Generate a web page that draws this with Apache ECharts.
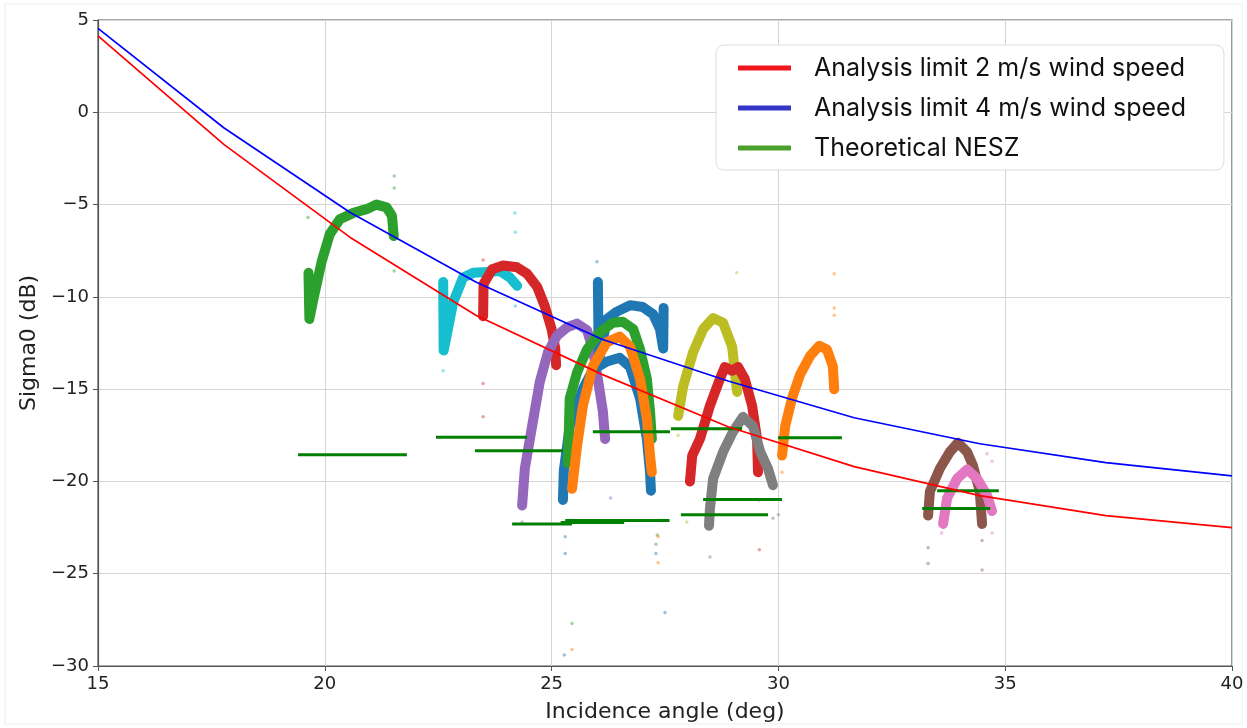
<!DOCTYPE html>
<html>
<head>
<meta charset="utf-8">
<script src="https://cdn.jsdelivr.net/npm/echarts@6/dist/echarts.min.js"></script>
<style>html,body{margin:0;padding:0;background:#fff}#c{width:1247px;height:728px}</style>
</head>
<body>
<div id="c"></div>
<script>
// ---- axis ticks ----
const xTicks = [15, 20, 25, 30, 35, 40];
const yTicks = [-30, -25, -20, -15, -10, -5, 0, 5];

// ---- analysis limit curves (incidence angle, sigma0 dB) ----
const limitAngles = [15, 17.78, 20.56, 23.33, 26.11, 28.89, 31.67, 34.44, 37.22, 40];
const limit2ms = [4.14, -1.75, -6.78, -11.0, -14.2, -17.04, -19.2, -20.77, -21.85, -22.5];
const limit4ms = [4.55, -0.85, -5.43, -9.2, -12.3, -14.56, -16.55, -17.96, -18.98, -19.7];

// ---- theoretical NESZ segments: [xStart, xEnd, level] ----
const neszStart = [19.41, 22.45, 23.31, 24.13, 25.2, 25.3, 25.91, 27.63, 28.34, 27.85, 29.99, 33.5, 33.17];
const neszEnd   = [21.81, 24.46, 25.25, 25.45, 26.6, 27.6, 27.61, 29.2, 30.08, 29.77, 31.4, 34.86, 34.67];
const neszLevel = [-18.55, -17.6, -18.34, -22.3, -22.22, -22.12, -17.31, -17.15, -20.98, -21.8, -17.64, -20.5, -21.47];

// ---- measured sigma0 bursts (x = angle, y = dB) ----
const arcGreenA = [[19.64,-8.7],[19.66,-11.2],[19.75,-10.1],[19.93,-8.1],[20.11,-6.6],[20.33,-5.8],[20.63,-5.45],[20.92,-5.25],[21.14,-5.0],[21.36,-5.15],[21.48,-5.6],[21.52,-6.7]];
const arcCyan = [[22.61,-9.2],[22.62,-12.9],[22.67,-12.3],[22.83,-10.3],[23.05,-8.95],[23.27,-8.7],[23.58,-8.65],[23.86,-8.6],[24.08,-8.95],[24.24,-9.4]];
const arcRedA = [[23.49,-11.05],[23.5,-9.3],[23.69,-8.5],[23.93,-8.3],[24.24,-8.4],[24.46,-8.75],[24.68,-9.45],[24.85,-10.5],[25.0,-11.75],[25.08,-12.8],[25.1,-13.7]];
const arcPurple = [[24.35,-21.3],[24.41,-19.3],[24.57,-17.0],[24.74,-14.6],[24.92,-13.0],[25.12,-12.1],[25.34,-11.65],[25.56,-11.45],[25.78,-11.8],[25.91,-12.85],[26.02,-14.45],[26.13,-16.2],[26.18,-17.7]];
const arcBlueUpper = [[26.02,-9.2],[26.04,-13.5],[26.22,-11.2],[26.44,-10.8],[26.73,-10.45],[27.01,-10.55],[27.24,-10.95],[27.39,-11.75],[27.46,-12.8],[27.47,-10.6]];
const arcBlueLower = [[25.25,-21.0],[25.27,-19.4],[25.4,-17.0],[25.69,-15.0],[25.91,-13.95],[26.22,-13.5],[26.5,-13.3],[26.73,-13.8],[26.95,-15.5],[27.1,-17.7],[27.17,-19.5],[27.19,-20.5]];
const arcGreenB = [[25.36,-19.0],[25.4,-15.5],[25.56,-14.1],[25.78,-12.85],[26.07,-11.9],[26.35,-11.4],[26.57,-11.35],[26.8,-11.75],[26.95,-12.85],[27.1,-14.45],[27.17,-16.2],[27.21,-17.7]];
const arcOrangeA = [[25.45,-20.4],[25.56,-18.1],[25.69,-15.9],[25.91,-13.75],[26.22,-12.45],[26.5,-12.15],[26.73,-12.7],[26.95,-14.45],[27.1,-16.6],[27.17,-18.6],[27.21,-19.5]];
const arcOlive = [[27.79,-16.45],[27.9,-14.85],[28.12,-13.0],[28.34,-11.75],[28.56,-11.15],[28.78,-11.4],[28.98,-12.7],[29.04,-14.05],[29.09,-15.15]];
const arcRedB = [[28.05,-20.0],[28.1,-18.6],[28.27,-17.7],[28.49,-15.9],[28.71,-14.45],[28.82,-13.8],[28.98,-14.0],[29.11,-13.8],[29.26,-14.45],[29.42,-15.9],[29.53,-17.7],[29.55,-19.5]];
const arcGray = [[28.47,-22.4],[28.49,-21.5],[28.56,-19.85],[28.78,-18.4],[29.0,-17.3],[29.22,-16.5],[29.44,-17.0],[29.6,-18.4],[29.77,-19.3],[29.88,-20.2]];
const arcOrangeB = [[30.08,-18.6],[30.15,-17.0],[30.3,-15.5],[30.48,-14.2],[30.7,-13.2],[30.9,-12.65],[31.07,-12.85],[31.2,-13.75],[31.23,-15.0]];
const arcBrown = [[33.3,-21.85],[33.34,-20.55],[33.56,-19.3],[33.78,-18.4],[33.96,-17.9],[34.16,-18.4],[34.29,-19.15],[34.44,-20.55],[34.49,-22.3]];
const arcPink = [[33.63,-22.3],[33.72,-20.9],[33.94,-19.85],[34.16,-19.35],[34.38,-19.85],[34.6,-20.75],[34.71,-21.6]];

// ---- sparse outlying samples ----
const outGreen = [[19.63,-5.7],[21.53,-3.45],[21.53,-4.1],[21.53,-8.6],[25.45,-27.7],[27.33,-22.9],[27.3,-23.4]];
const outCyan = [[24.19,-5.45],[24.2,-6.5],[22.61,-14.0],[24.2,-10.5]];
const outRed = [[23.49,-8.0],[23.49,-14.7],[23.49,-16.5],[29.58,-23.7],[29.57,-21.0]];
const outBlue = [[25.28,-29.4],[25.3,-23.0],[25.3,-23.9],[27.5,-27.1],[27.3,-23.9],[26.0,-8.1],[26.0,-12.7]];
const outOrange = [[25.45,-29.1],[27.35,-24.4],[27.35,-23.0],[31.23,-8.75],[31.23,-10.6],[31.23,-11.0],[30.08,-19.5]];
const outGray = [[28.49,-24.1],[29.88,-22.0],[30.0,-21.8]];
const outBrown = [[33.3,-23.6],[33.3,-24.45],[34.49,-24.8],[34.49,-23.2]];
const outPink = [[34.71,-22.8],[34.6,-18.5],[34.71,-18.9],[33.6,-22.8]];
const outPurple = [[24.35,-22.2],[26.3,-20.9]];
const outOlive = [[27.79,-17.5],[29.08,-8.7],[27.98,-22.2]];

const arcs = [
  {d: arcGreenA, c: '#2ca02c'}, {d: arcCyan, c: '#17becf'}, {d: arcRedA, c: '#d62728'},
  {d: arcPurple, c: '#9467bd'}, {d: arcBlueUpper, c: '#1f77b4'}, {d: arcBlueLower, c: '#1f77b4'},
  {d: arcGreenB, c: '#2ca02c'}, {d: arcOrangeA, c: '#ff7f0e'}, {d: arcOlive, c: '#bcbd22'},
  {d: arcRedB, c: '#d62728'}, {d: arcGray, c: '#7f7f7f'}, {d: arcOrangeB, c: '#ff7f0e'},
  {d: arcBrown, c: '#8c564b'}, {d: arcPink, c: '#e377c2'}
];
const outs = [
  {d: outGreen, c: '#2ca02c'}, {d: outCyan, c: '#17becf'}, {d: outRed, c: '#d62728'},
  {d: outBlue, c: '#1f77b4'}, {d: outOrange, c: '#ff7f0e'}, {d: outGray, c: '#7f7f7f'},
  {d: outBrown, c: '#8c564b'}, {d: outPink, c: '#e377c2'}, {d: outPurple, c: '#9467bd'},
  {d: outOlive, c: '#bcbd22'}
];

const series = [];
arcs.forEach((a, i) => {
  series.push({
    name: 'burst' + i, type: 'line', data: a.d, showSymbol: false, symbol: 'none',
    lineStyle: {color: a.c, width: 10, cap: 'round', join: 'round'}, z: 2, silent: true
  });
});
outs.forEach((o, i) => {
  series.push({
    name: 'out' + i, type: 'scatter', data: o.d, symbolSize: 3.5,
    itemStyle: {color: o.c, opacity: 0.45}, z: 2, silent: true
  });
});
neszStart.forEach((s, i) => {
  series.push({
    name: 'Theoretical NESZ', type: 'line', data: [[s, neszLevel[i]], [neszEnd[i], neszLevel[i]]],
    symbol: 'none', lineStyle: {color: '#008000', width: 3}, itemStyle: {color: '#4aa02c'}, z: 3, silent: true
  });
});
series.push({
  name: 'Analysis limit 2 m/s wind speed', type: 'line', symbol: 'none',
  data: limitAngles.map((x, i) => [x, limit2ms[i]]),
  lineStyle: {color: '#ff0000', width: 1.7}, itemStyle: {color: '#ff0000'}, z: 4, silent: true
});
series.push({
  name: 'Analysis limit 4 m/s wind speed', type: 'line', symbol: 'none',
  data: limitAngles.map((x, i) => [x, limit4ms[i]]),
  lineStyle: {color: '#0000ff', width: 1.7}, itemStyle: {color: '#3535c8'}, z: 4, silent: true
});

const minus = v => String(v).replace('-', '\u2212');
const chart = echarts.init(document.getElementById('c'), null, {renderer: 'canvas'});
chart.setOption({
  animation: false,
  backgroundColor: '#ffffff',
  textStyle: {fontFamily: 'DejaVu Sans'},
  grid: {left: 98, right: 15, top: 20, bottom: 60, show: true, borderColor: '#555', borderWidth: 1.2, backgroundColor: 'transparent'},
  legend: {
    orient: 'vertical', left: 716, top: 45,
    data: [
      {name: 'Analysis limit 2 m/s wind speed', itemStyle: {color: '#f0161e'}},
      {name: 'Analysis limit 4 m/s wind speed', itemStyle: {color: '#3535c8'}},
      {name: 'Theoretical NESZ', itemStyle: {color: '#4aa02c'}}
    ],
    icon: 'rect', itemWidth: 53, itemHeight: 5, itemGap: 12,
    textStyle: {fontFamily: 'Inter', fontSize: 25, color: '#111', lineHeight: 28, padding: [0, 0, 0, 18]},
    padding: [9, 38, 8, 22],
    borderColor: '#dcdcdc', borderWidth: 1, borderRadius: 8, backgroundColor: '#fff',
    selectedMode: false
  },
  xAxis: {
    type: 'value', min: 15, max: 40, interval: 5,
    name: 'Incidence angle (deg)', nameLocation: 'middle', nameGap: 35,
    nameTextStyle: {fontSize: 22, color: '#222', fontFamily: 'DejaVu Sans'},
    axisLine: {show: true, onZero: false, lineStyle: {color: '#555', width: 1.2}},
    axisTick: {show: true, length: 5, lineStyle: {color: '#555'}},
    axisLabel: {fontSize: 18, color: '#222', margin: 9, formatter: v => xTicks.includes(v) ? minus(v) : ''},
    splitLine: {show: true, lineStyle: {color: '#d5d5d5', width: 1}}
  },
  yAxis: {
    type: 'value', min: -30, max: 5, interval: 5,
    name: 'Sigma0 (dB)', nameLocation: 'middle', nameGap: 55, nameRotate: 90,
    nameTextStyle: {fontSize: 22, color: '#222', fontFamily: 'DejaVu Sans'},
    axisLine: {show: true, onZero: false, lineStyle: {color: '#555', width: 1.2}},
    axisTick: {show: true, length: 5, lineStyle: {color: '#555'}},
    axisLabel: {fontSize: 18, color: '#222', margin: 9, formatter: v => yTicks.includes(v) ? minus(v) : ''},
    splitLine: {show: true, lineStyle: {color: '#d5d5d5', width: 1}}
  },
  graphic: [{type: 'rect', shape: {x: 5, y: 4, width: 1237, height: 720}, style: {fill: 'none', stroke: '#eeeeee', lineWidth: 1}, silent: true, z: -1}],
  series: series
});
</script>
</body>
</html>
